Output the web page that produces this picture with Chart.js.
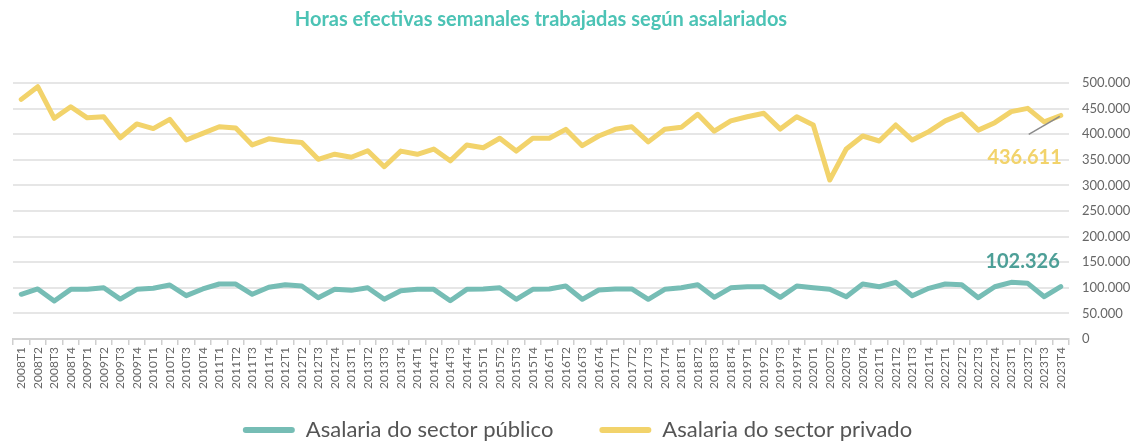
<!DOCTYPE html>
<html>
<head>
<meta charset="utf-8">
<script src="https://cdn.jsdelivr.net/npm/chart.js@4/dist/chart.umd.min.js"></script>
<style>
  html, body { margin: 0; padding: 0; background: #fff; }
  #wrap { width: 1142px; height: 442px; }
</style>
</head>
<body>
<div id="wrap"><canvas id="chart" width="1142" height="442"></canvas></div>
<script>
// Trimestres 2008T1 .. 2023T4
const years = ['2008','2009','2010','2011','2012','2013','2014','2015','2016','2017','2018','2019','2020','2021','2022','2023'];
const quarters = ['T1','T2','T3','T4'];
const labels = [];
years.forEach(y => quarters.forEach(q => labels.push(y + q)));

const publico = [
  87300, 97700, 74200, 97000, 97000, 100000, 78000, 97000,
  99000, 105500, 84600, 97700, 107400, 107400, 87300, 101000,
  106000, 103500, 80700, 97000, 95000, 100000, 77500, 94300,
  97000, 97000, 74800, 97000, 97700, 100000, 77500, 97000,
  97700, 103500, 77500, 95700, 97700, 97700, 77500, 97000,
  100000, 106000, 81400, 100000, 102000, 102000, 81400, 103500,
  100000, 97000, 82600, 107400, 102000, 110700, 84600, 99000,
  107400, 106000, 80700, 102000, 110700, 108700, 82600, 102326
];

const privado = [
  468000, 492800, 431000, 453700, 432000, 434000, 393000, 420000,
  411000, 429000, 388600, 401700, 414600, 412000, 379000, 391000,
  386700, 384000, 351000, 361000, 355000, 367700, 336500, 367000,
  360700, 371000, 348000, 379000, 373600, 392000, 367000, 392000,
  392000, 409500, 377600, 396500, 409500, 414600, 385000, 409500,
  413400, 438800, 406000, 426000, 434000, 440800, 410000, 434000,
  418000, 310500, 371000, 396500, 386700, 418000, 388600, 405000,
  426000, 439400, 408000, 422500, 444000, 450500, 424000, 436611
];

const COLOR_PUB = '#76bdb5';
const COLOR_PRIV = '#f2d36b';
const FONT = 'Lato, "Open Sans", sans-serif';

function fmt(v) {
  return String(Math.round(v)).replace(/\B(?=(\d{3})+(?!\d))/g, '.');
}

// Etiquetas del último valor de cada serie
const lastValuePlugin = {
  id: 'lastValue',
  afterDatasetsDraw(chart) {
    const ctx = chart.ctx;
    const metaPub = chart.getDatasetMeta(0);
    const metaPriv = chart.getDatasetMeta(1);
    const pPub = metaPub.data[metaPub.data.length - 1];
    const pPriv = metaPriv.data[metaPriv.data.length - 1];

    ctx.save();
    // línea gris de referencia
    ctx.strokeStyle = '#8a8a8a';
    ctx.lineWidth = 1.5;
    ctx.beginPath();
    ctx.moveTo(pPriv.x - 1, pPriv.y + 1);
    ctx.lineTo(pPriv.x - 32, pPriv.y + 19);
    ctx.stroke();

    ctx.font = 'bold 20px ' + FONT;
    ctx.textAlign = 'right';
    ctx.textBaseline = 'middle';
    ctx.fillStyle = COLOR_PRIV;
    ctx.fillText(fmt(privado[privado.length - 1]), pPriv.x + 1, pPriv.y + 42);

    ctx.fillStyle = '#4d9f97';
    ctx.fillText(fmt(publico[publico.length - 1]), pPub.x - 1, pPub.y - 25);
    ctx.restore();
  }
};

// Leyenda: poca altura en el layout pero dibujada algo más arriba,
// así conserva la separación horizontal entre elementos
const legendSpacePlugin = {
  id: 'legendSpace',
  beforeInit(chart) {
    const origFit = chart.legend.fit;
    chart.legend.fit = function () {
      origFit.call(this);
      this.height = 51;
    };
  },
  afterLayout(chart) {
    chart.legend.top -= 18;
    chart.legend.height += 18;
  }
};

const ctx = document.getElementById('chart').getContext('2d');
new Chart(ctx, {
  type: 'line',
  data: {
    labels: labels,
    datasets: [
      {
        label: 'Asalaria do sector público',
        data: publico,
        borderColor: COLOR_PUB,
        backgroundColor: COLOR_PUB,
        borderWidth: 5,
        pointRadius: 0,
        tension: 0,
        borderJoinStyle: 'round',
        borderCapStyle: 'round'
      },
      {
        label: 'Asalaria do sector privado',
        data: privado,
        borderColor: COLOR_PRIV,
        backgroundColor: COLOR_PRIV,
        borderWidth: 5,
        pointRadius: 0,
        tension: 0,
        borderJoinStyle: 'round',
        borderCapStyle: 'round'
      }
    ]
  },
  options: {
    responsive: false,
    animation: false,
    layout: { padding: { left: 13, right: 0, top: 4, bottom: 0 } },
    plugins: {
      title: {
        display: true,
        text: 'Horas efectivas semanales trabajadas según asalariados',
        color: '#4cc3b5',
        font: { family: FONT, size: 20, weight: 'bold' },
        fullSize: false,
        padding: { top: 4, bottom: 51 }
      },
      legend: {
        position: 'bottom',
        labels: {
          color: '#555',
          font: { family: FONT, size: 22 },
          boxWidth: 52,
          boxHeight: 6,
          padding: 46,
          useBorderRadius: true,
          borderRadius: 3,
          generateLabels(chart) {
            const items = Chart.defaults.plugins.legend.labels.generateLabels(chart);
            items.forEach(it => { it.lineWidth = 0; it.borderRadius = 3; });
            return items;
          }
        }
      },
      tooltip: { enabled: false }
    },
    scales: {
      x: {
        offset: true,
        afterFit(scale) { scale.height = 52; },
        grid: {
          offset: true,
          drawOnChartArea: false,
          drawTicks: true,
          tickLength: 6,
          color: '#cfcfcf',
          lineWidth: 1.5
        },
        border: { display: true, color: '#d2d2d2', width: 2 },
        ticks: {
          autoSkip: false,
          maxRotation: 90,
          minRotation: 90,
          color: '#666',
          padding: 2,
          font: { family: FONT, size: 12 }
        }
      },
      y: {
        position: 'right',
        min: 0,
        max: 500000,
        afterFit(scale) { scale.width = 73; },
        border: { display: false },
        grid: {
          color: '#e6e6e6',
          lineWidth: 2,
          drawTicks: false
        },
        ticks: {
          stepSize: 50000,
          color: '#666',
          padding: 13,
          font: { family: FONT, size: 13 },
          callback: v => fmt(v)
        }
      }
    }
  },
  plugins: [lastValuePlugin, legendSpacePlugin]
});
</script>
</body>
</html>
